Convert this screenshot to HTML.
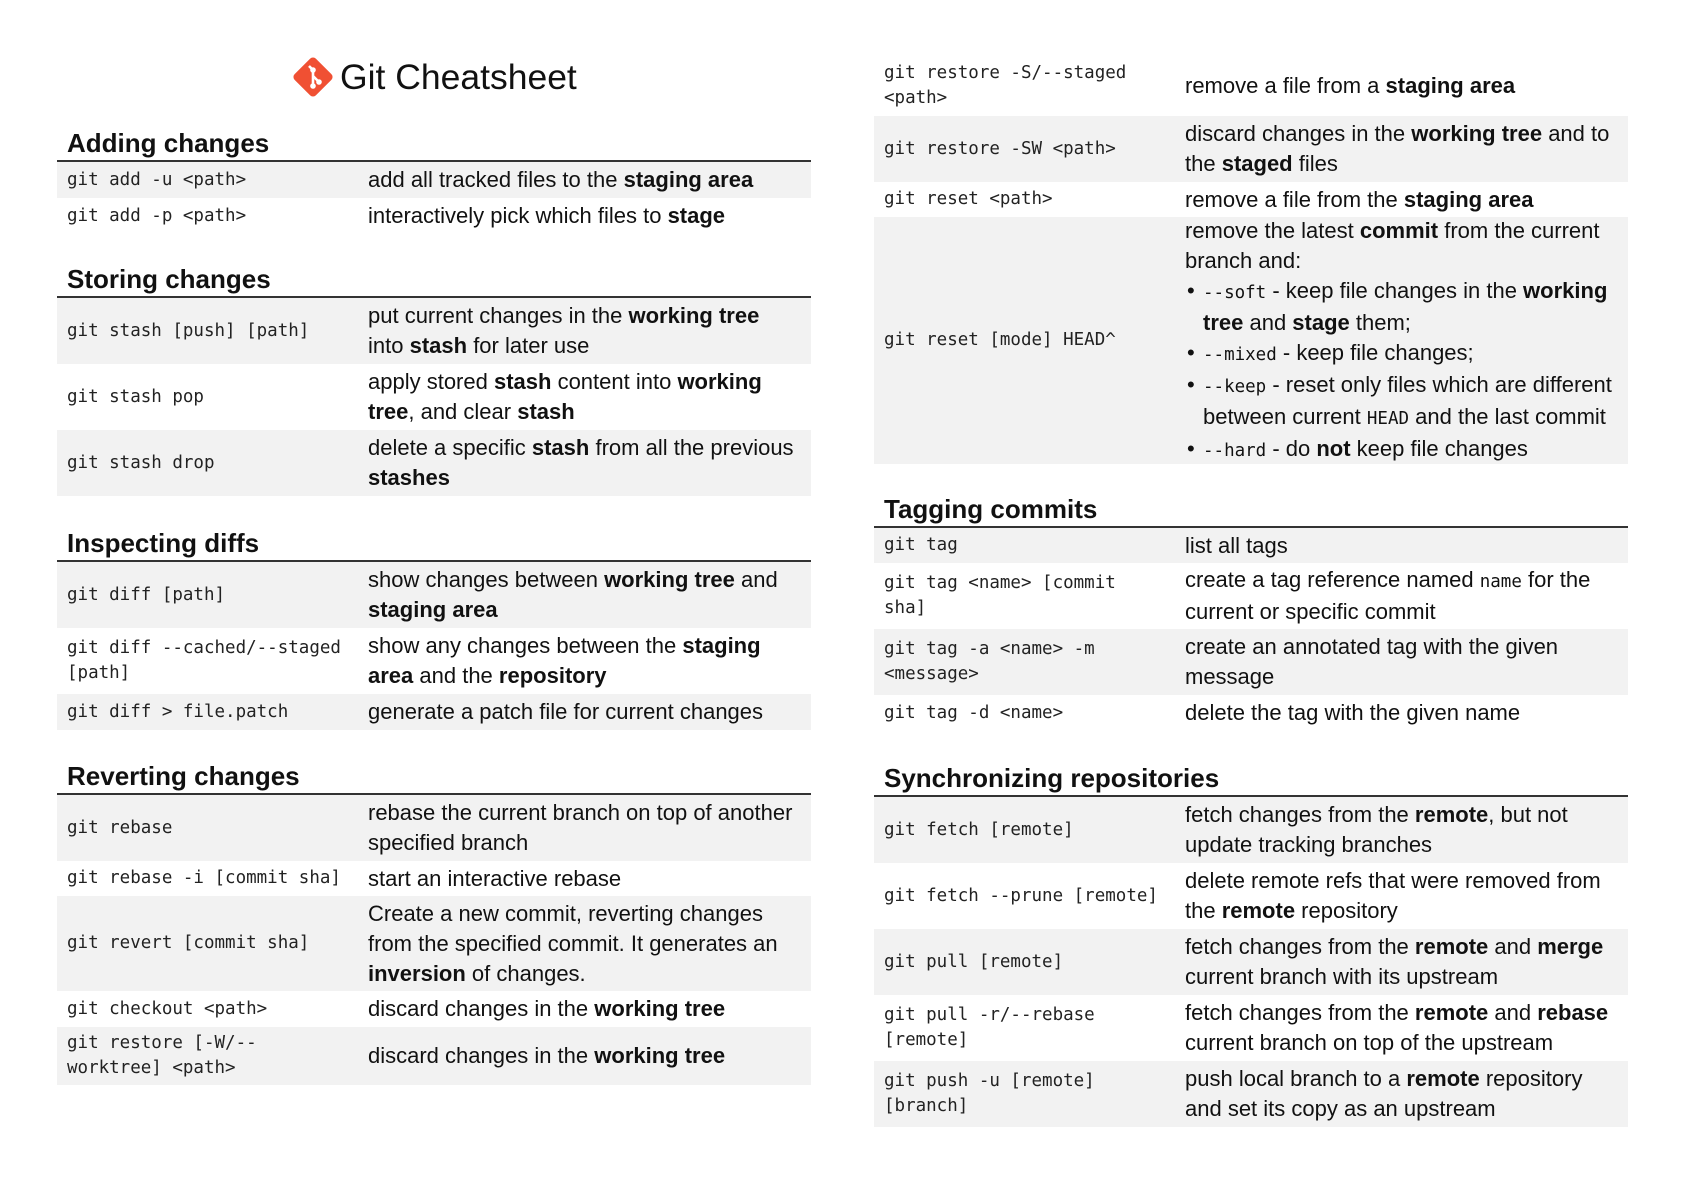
<!DOCTYPE html>
<html><head><meta charset="utf-8"><style>
*{margin:0;padding:0;box-sizing:border-box}
body{width:1684px;height:1191px;background:#fff;position:relative;overflow:hidden;font-family:"Liberation Sans",Arial,sans-serif;color:#111}
.sec{position:absolute;width:754px}
h2{font-size:26px;font-weight:bold;height:38px;line-height:38px;padding-left:10px;border-bottom:2px solid #333}
.r{display:flex;align-items:center;padding:3px 0}
.r.s{background:#f2f2f2}
.c{width:311px;flex:none;padding-left:10px;font-family:"DejaVu Sans Mono","Liberation Mono",monospace;font-size:17.5px;line-height:25px;white-space:nowrap;color:#222}
.d{font-size:22px;line-height:30px;white-space:nowrap}
.m{font-family:"DejaVu Sans Mono","Liberation Mono",monospace;font-size:17.5px}
ul{list-style:none}
li{position:relative;padding-left:18px}
li:before{content:"•";position:absolute;left:2px}
</style></head><body>

<svg style="position:absolute;left:292px;top:56px" width="42" height="42" viewBox="0 0 42 42">
<rect x="6" y="6" width="30" height="30" rx="4" transform="rotate(45 21 21)" fill="#f05033"/>
<path d="M17 10 L21 14 L21 30 M21 20 L27 26" stroke="#fff" stroke-width="2.6" fill="none"/>
<circle cx="21" cy="14" r="2.8" fill="#fff"/><circle cx="21" cy="30" r="2.8" fill="#fff"/><circle cx="27" cy="26" r="2.8" fill="#fff"/>
</svg>
<div style="position:absolute;left:340px;top:56px;font-size:35.5px;line-height:42px">Git Cheatsheet</div>

<div class="sec" style="left:57px;top:124px">
<h2>Adding changes</h2>
<div class="r s" style="height:36px"><div class="c">git add -u &lt;path&gt;</div><div class="d">add all tracked files to the <b>staging area</b></div></div>
<div class="r" style="height:36px"><div class="c">git add -p &lt;path&gt;</div><div class="d">interactively pick which files to <b>stage</b></div></div>
</div>

<div class="sec" style="left:57px;top:260px">
<h2>Storing changes</h2>
<div class="r s" style="height:66px"><div class="c">git stash [push] [path]</div><div class="d">put current changes in the <b>working tree</b><br>into <b>stash</b> for later use</div></div>
<div class="r" style="height:66px"><div class="c">git stash pop</div><div class="d">apply stored <b>stash</b> content into <b>working</b><br><b>tree</b>, and clear <b>stash</b></div></div>
<div class="r s" style="height:66px"><div class="c">git stash drop</div><div class="d">delete a specific <b>stash</b> from all the previous<br><b>stashes</b></div></div>
</div>

<div class="sec" style="left:57px;top:524px">
<h2>Inspecting diffs</h2>
<div class="r s" style="height:66px"><div class="c">git diff [path]</div><div class="d">show changes between <b>working tree</b> and<br><b>staging area</b></div></div>
<div class="r" style="height:66px"><div class="c">git diff --cached/--staged<br>[path]</div><div class="d">show any changes between the <b>staging</b><br><b>area</b> and the <b>repository</b></div></div>
<div class="r s" style="height:36px"><div class="c">git diff &gt; file.patch</div><div class="d">generate a patch file for current changes</div></div>
</div>

<div class="sec" style="left:57px;top:757px">
<h2>Reverting changes</h2>
<div class="r s" style="height:66px"><div class="c">git rebase</div><div class="d">rebase the current branch on top of another<br>specified branch</div></div>
<div class="r" style="height:35px"><div class="c">git rebase -i [commit sha]</div><div class="d">start an interactive rebase</div></div>
<div class="r s" style="height:95px"><div class="c">git revert [commit sha]</div><div class="d">Create a new commit, reverting changes<br>from the specified commit. It generates an<br><b>inversion</b> of changes.</div></div>
<div class="r" style="height:36px"><div class="c">git checkout &lt;path&gt;</div><div class="d">discard changes in the <b>working tree</b></div></div>
<div class="r s" style="height:58px"><div class="c">git restore [-W/--<br>worktree] &lt;path&gt;</div><div class="d">discard changes in the <b>working tree</b></div></div>
</div>

<div class="sec" style="left:874px;top:55px">
<div class="r" style="height:61px"><div class="c">git restore -S/--staged<br>&lt;path&gt;</div><div class="d">remove a file from a <b>staging area</b></div></div>
<div class="r s" style="height:66px"><div class="c">git restore -SW &lt;path&gt;</div><div class="d">discard changes in the <b>working tree</b> and to<br>the <b>staged</b> files</div></div>
<div class="r" style="height:35px"><div class="c">git reset &lt;path&gt;</div><div class="d">remove a file from the <b>staging area</b></div></div>
<div class="r s" style="height:247px"><div class="c">git reset [mode] HEAD^</div><div class="d">remove the latest <b>commit</b> from the current<br>branch and:
<ul><li><span class="m">--soft</span> - keep file changes in the <b>working</b><br><b>tree</b> and <b>stage</b> them;</li>
<li><span class="m">--mixed</span> - keep file changes;</li>
<li><span class="m">--keep</span> - reset only files which are different<br>between current <span class="m">HEAD</span> and the last commit</li>
<li><span class="m">--hard</span> - do <b>not</b> keep file changes</li></ul></div></div>
</div>

<div class="sec" style="left:874px;top:490px">
<h2>Tagging commits</h2>
<div class="r s" style="height:35px"><div class="c">git tag</div><div class="d">list all tags</div></div>
<div class="r" style="height:66px"><div class="c">git tag &lt;name&gt; [commit<br>sha]</div><div class="d">create a tag reference named <span class="m">name</span> for the<br>current or specific commit</div></div>
<div class="r s" style="height:66px"><div class="c">git tag -a &lt;name&gt; -m<br>&lt;message&gt;</div><div class="d">create an annotated tag with the given<br>message</div></div>
<div class="r" style="height:36px"><div class="c">git tag -d &lt;name&gt;</div><div class="d">delete the tag with the given name</div></div>
</div>

<div class="sec" style="left:874px;top:759px">
<h2>Synchronizing repositories</h2>
<div class="r s" style="height:66px"><div class="c">git fetch [remote]</div><div class="d">fetch changes from the <b>remote</b>, but not<br>update tracking branches</div></div>
<div class="r" style="height:66px"><div class="c">git fetch --prune [remote]</div><div class="d">delete remote refs that were removed from<br>the <b>remote</b> repository</div></div>
<div class="r s" style="height:66px"><div class="c">git pull [remote]</div><div class="d">fetch changes from the <b>remote</b> and <b>merge</b><br>current branch with its upstream</div></div>
<div class="r" style="height:66px"><div class="c">git pull -r/--rebase<br>[remote]</div><div class="d">fetch changes from the <b>remote</b> and <b>rebase</b><br>current branch on top of the upstream</div></div>
<div class="r s" style="height:66px"><div class="c">git push -u [remote]<br>[branch]</div><div class="d">push local branch to a <b>remote</b> repository<br>and set its copy as an upstream</div></div>
</div>

</body></html>
